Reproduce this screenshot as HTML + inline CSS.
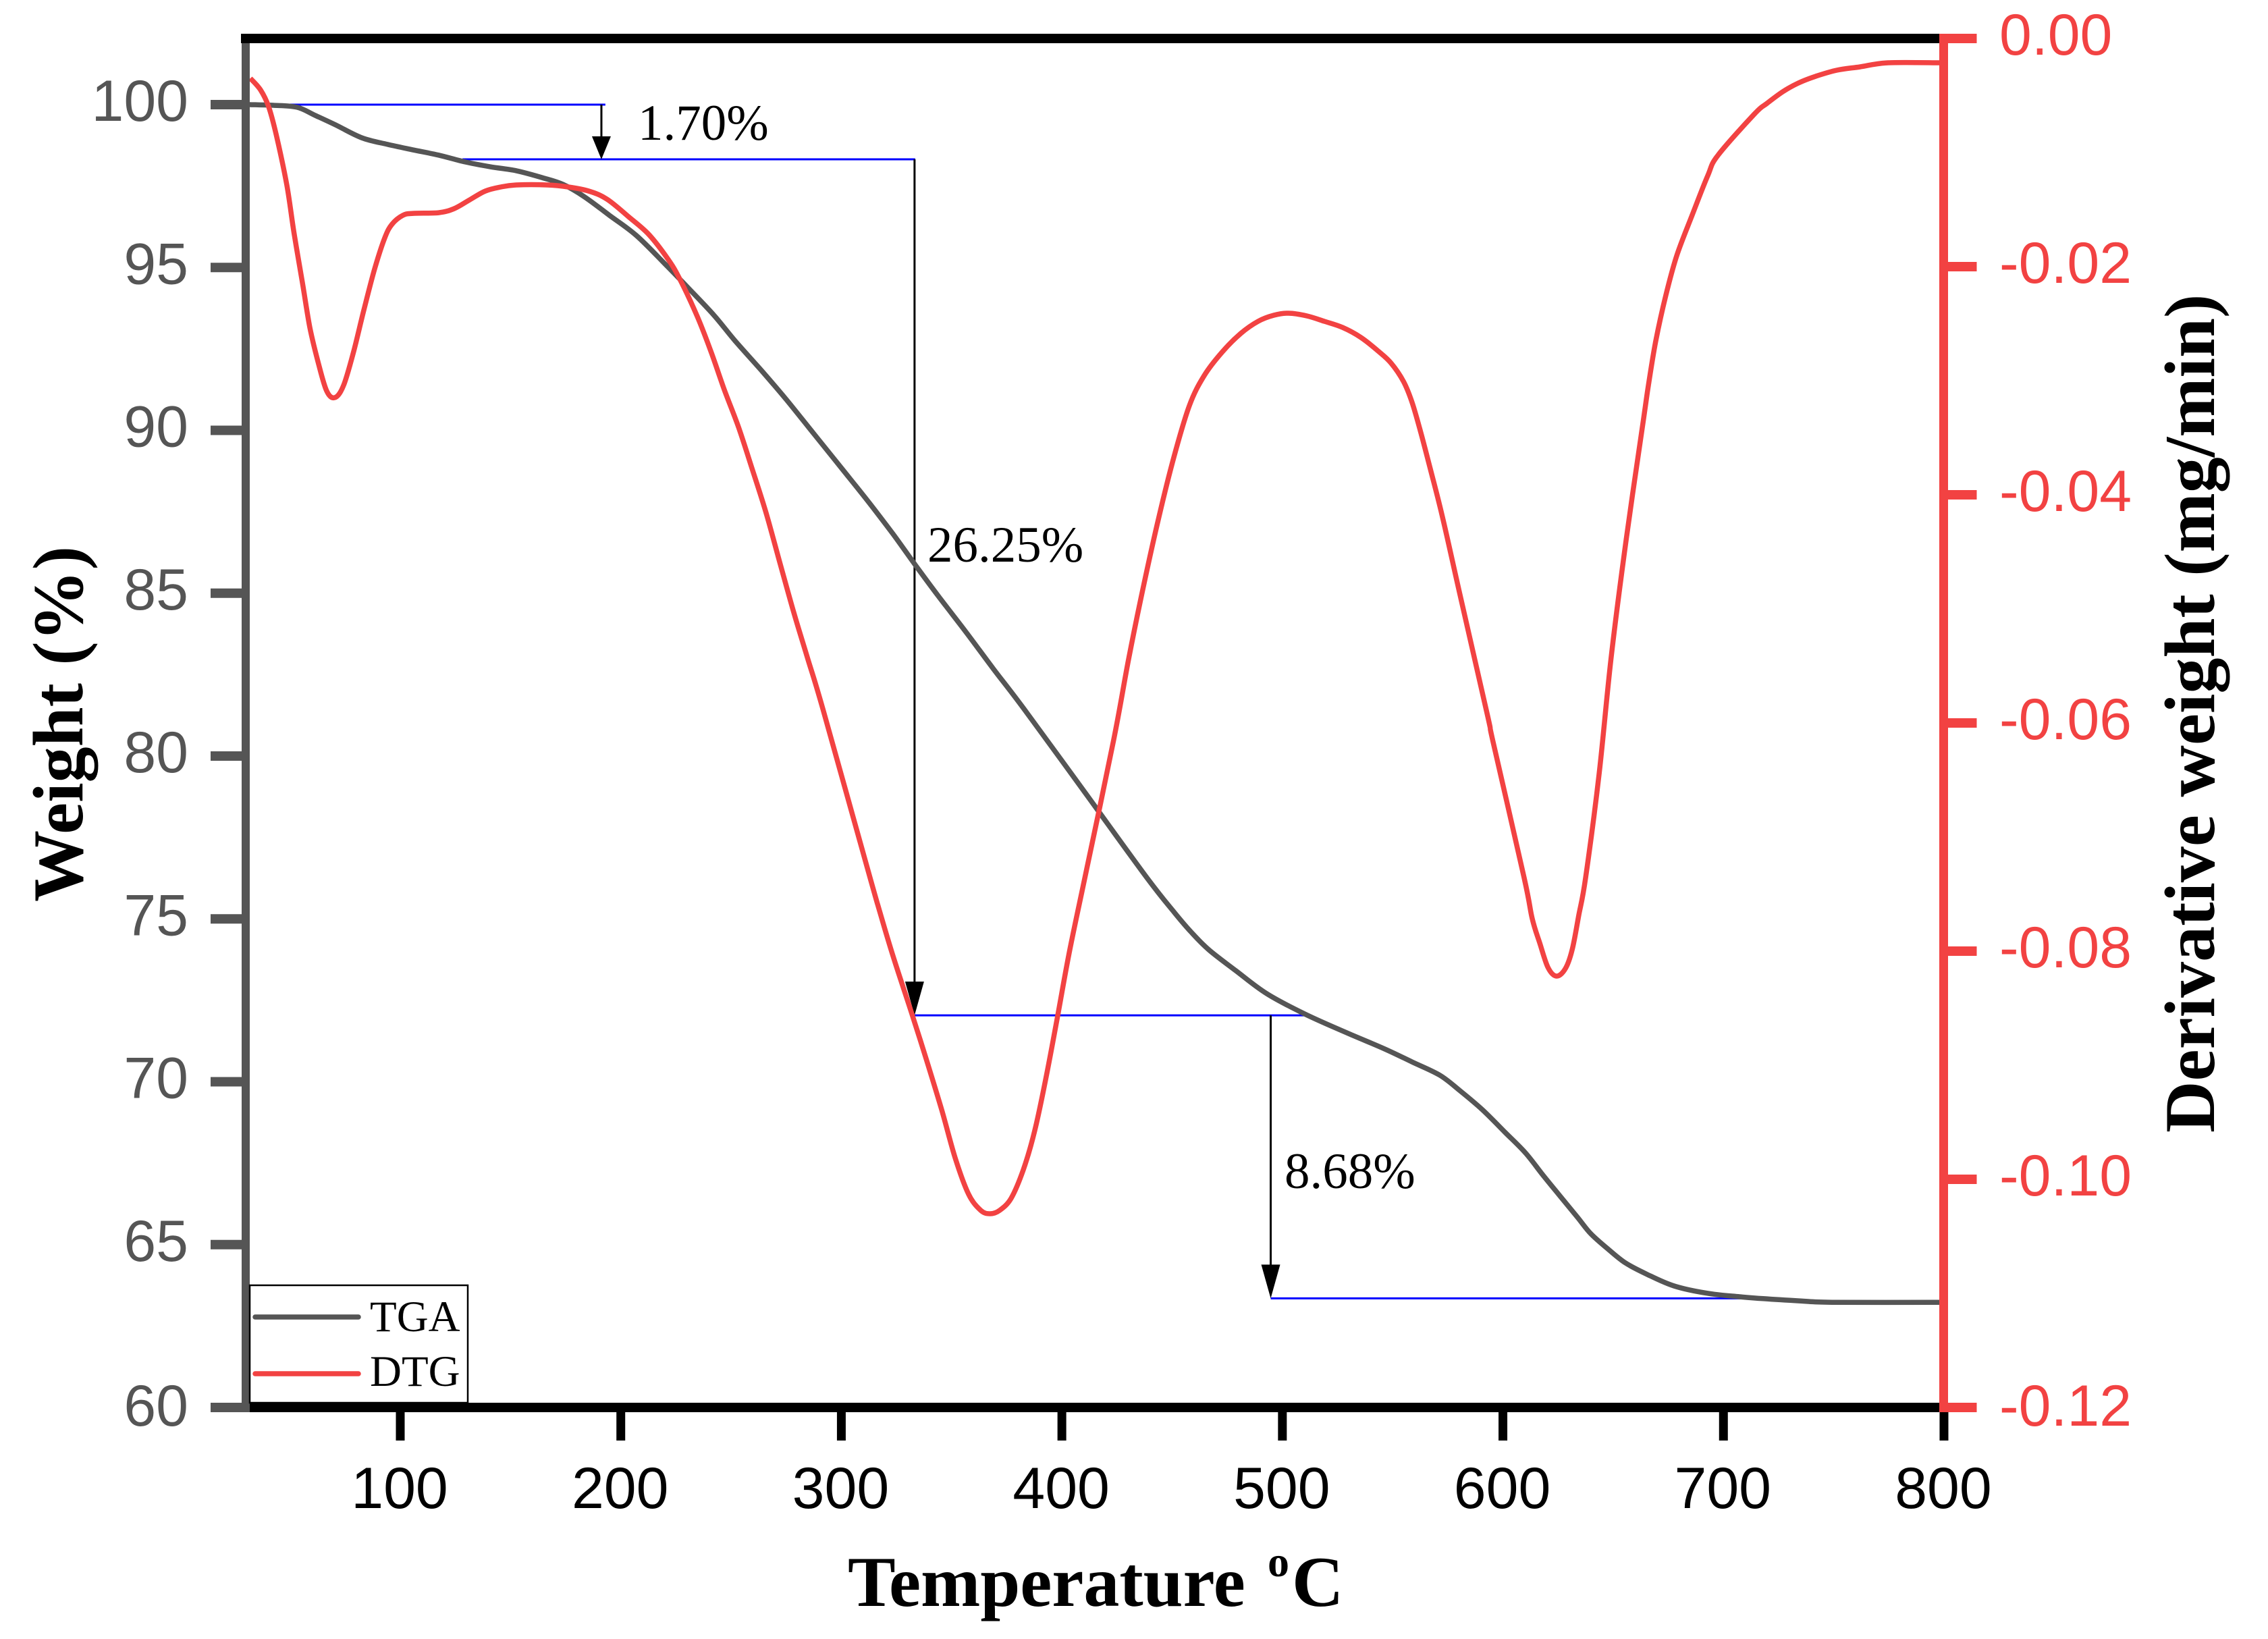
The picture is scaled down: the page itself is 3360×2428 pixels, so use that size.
<!DOCTYPE html>
<html lang="en">
<head>
<meta charset="utf-8">
<title>TGA and DTG curves</title>
<style>
html,body{margin:0;padding:0;background:#fff;}
svg{display:block;}
.sans{font-family:"Liberation Sans",Arial,sans-serif;font-size:86px;}
.serif{font-family:"Liberation Serif","Times New Roman",serif;}
.title{font-weight:700;font-size:106px;fill:#000;}
.note{font-size:75px;fill:#000;}
.leg{font-size:65px;fill:#000;}
</style>
</head>
<body>
<svg id="chart" xmlns="http://www.w3.org/2000/svg" width="3360" height="2428" viewBox="0 0 3360 2428">
  <rect x="0" y="0" width="3360" height="2428" fill="#fff"/>
  <g id="annotations"></g>
  <g id="series"></g>
  <g id="axes"></g>

  <g>
    <rect x="370" y="1904" width="323" height="174" fill="#fff" stroke="#000" stroke-width="2.5"/>
    <line x1="378" y1="1951" x2="531" y2="1951" stroke="#555555" stroke-width="7.5" stroke-linecap="round"/>
    <line x1="378" y1="2035" x2="531" y2="2035" stroke="#f24242" stroke-width="7.5" stroke-linecap="round"/>
    <text class="serif leg" x="548" y="1972">TGA</text>
    <text class="serif leg" x="548" y="2053">DTG</text>
  </g>

  <text class="serif note" x="945" y="207">1.70%</text>
  <text class="serif note" x="1374" y="832">26.25%</text>
  <text class="serif note" x="1903" y="1760">8.68%</text>

  <text class="serif title" x="1256" y="2379">Temperature</text>
  <text class="serif" x="1878" y="2335" font-size="64" font-weight="700">o</text>
  <text class="serif title" x="1914" y="2379">C</text>
  <text class="serif title" transform="translate(122,1336) rotate(-90)">Weight (%)</text>
  <text class="serif title" transform="translate(3280,1678) rotate(-90)">Derivative weight (mg/min)</text>
</svg>

<script>
// ---- chart data ----
const xTicks = [100, 200, 300, 400, 500, 600, 700, 800];
const weightTicks = [100, 95, 90, 85, 80, 75, 70, 65, 60];
const dtgTicks = [0, -0.02, -0.04, -0.06, -0.08, -0.10, -0.12];

const tgaTemps = [31.7,42.5,53.2,61.4,70.6,82.6,94.2,105.8,117.4,129.4,141.0,152.6,164.3,173.8,183.3,194.9,207.1,220.6,231.3,242.3,251.8,264.4,275.1,287.6,300.2,312.7,323.4,333.5,344.0,356.5,368.8,382.8,410.7,438.5,451.1,458.7,466.7,478.9,493.0,510.8,530.7,546.3,558.8,571.4,580.6,590.7,601.1,610.3,618.2,625.9,633.8,639.9,647.9,655.5,665.0,677.6,693.2,707.3,718.0,735.1,749.2,798.0];
const tgaWeight = [100.0,99.98,99.92,99.67,99.38,98.98,98.78,98.61,98.45,98.24,98.09,97.97,97.76,97.55,97.18,96.60,95.98,95.07,94.32,93.53,92.75,91.79,90.94,89.89,88.83,87.77,86.82,85.87,84.91,83.81,82.69,81.45,78.86,76.27,75.19,74.59,74.05,73.41,72.70,72.06,71.46,71.01,70.61,70.20,69.72,69.14,68.44,67.81,67.13,66.49,65.84,65.33,64.85,64.44,64.10,63.73,63.50,63.40,63.34,63.27,63.23,63.23];

const dtgTemps = [32.0,36.6,40.3,43.7,48.6,51.9,55.6,59.0,62.7,66.6,70.3,74.3,78.9,83.5,88.4,93.0,96.3,101.2,105.8,117.4,124.5,131.5,138.6,145.6,152.6,166.7,176.2,185.4,193.7,203.5,212.6,221.2,226.7,234.7,240.8,246.9,253.4,259.5,265.9,272.0,278.5,284.6,291.6,313.0,317.3,323.4,332.3,338.4,345.5,351.6,357.7,363.2,367.5,371.8,377.0,382.5,387.7,392.9,398.1,403.6,411.3,423.5,430.3,437.3,444.0,450.8,457.8,464.6,472.8,481.1,489.0,496.1,502.8,511.1,519.0,527.3,535.6,543.8,549.3,554.9,558.8,562.8,567.1,572.6,580.6,593.1,595.6,609.6,613.3,616.7,620.4,624.3,628.3,631.4,634.4,637.5,643.6,649.1,655.9,663.8,666.0,669.3,673.9,678.8,685.9,692.9,697.5,714.0,719.8,726.9,733.9,741.9,751.4,761.8,774.6,797.9];
const dtgValues = [-.00349,-.00450,-.00598,-.00840,-.01290,-.01716,-.02136,-.02533,-.02834,-.03089,-.03148,-.03041,-.02740,-.02379,-.02018,-.01746,-.01627,-.01550,-.01533,-.01527,-.01491,-.01414,-.01337,-.01302,-.01284,-.01284,-.01302,-.01337,-.01408,-.01562,-.01716,-.01929,-.02107,-.02438,-.02740,-.03077,-.03408,-.03769,-.04160,-.04586,-.05036,-.05426,-.05876,-.07355,-.07645,-.08041,-.08568,-.08941,-.09391,-.09811,-.10130,-.10272,-.10302,-.10272,-.10166,-.09917,-.09574,-.09101,-.08568,-.07988,-.07278,-.06148,-.05438,-.04775,-.04195,-.03669,-.03219,-.02953,-.02746,-.02586,-.02479,-.02426,-.02408,-.02432,-.02479,-.02533,-.02621,-.02746,-.02846,-.03006,-.03189,-.03456,-.03775,-.04195,-.04882,-.05941,-.06172,-.07355,-.07716,-.07929,-.08142,-.08219,-.08154,-.07988,-.07686,-.07355,-.06450,-.05420,-.04391,-.03331,-.03036,-.02651,-.02249,-.01905,-.01544,-.01201,-.01024,-.00663,-.00568,-.00467,-.00391,-.00331,-.00278,-.00249,-.00213,-.00213];

// mass-loss step levels (weight %), with the temperature span of each blue guide
const stepWeights = [100, 98.32, 72.04, 63.35];
const stepStarts = [42.5, 128.2, 331.7, 494.7];
const stepEnds = [193.0, 333.5, 511.1, 709.4];
// arrows drop from one step level to the next at these temperatures
const arrowTemps = [191.2, 333.2, 494.7];

// ---- axis functions ----
function X(t){ return 593 + (t - 100) * 3.2671; }
function YW(w){ return 2085 - (w - 60) * 48.25; }
function YD(d){ return 57 - d * 16900; }

const NS = 'http://www.w3.org/2000/svg';
function mk(tag, attrs, parent, txt){
  const n = document.createElementNS(NS, tag);
  for (const k in attrs) n.setAttribute(k, attrs[k]);
  if (txt !== undefined) n.textContent = txt;
  parent.appendChild(n);
  return n;
}
// smooth curve through the plotted points
function curve(pts){
  let d = 'M' + pts[0][0].toFixed(1) + ' ' + pts[0][1].toFixed(1);
  for (let i = 0; i < pts.length - 1; i++){
    const p0 = pts[Math.max(i - 1, 0)], p1 = pts[i], p2 = pts[i + 1], p3 = pts[Math.min(i + 2, pts.length - 1)];
    const c1x = p1[0] + (p2[0] - p0[0]) / 6, c1y = p1[1] + (p2[1] - p0[1]) / 6;
    const c2x = p2[0] - (p3[0] - p1[0]) / 6, c2y = p2[1] - (p3[1] - p1[1]) / 6;
    d += 'C' + c1x.toFixed(1) + ' ' + c1y.toFixed(1) + ' ' + c2x.toFixed(1) + ' ' + c2y.toFixed(1) + ' ' + p2[0].toFixed(1) + ' ' + p2[1].toFixed(1);
  }
  return d;
}

const GRAY = '#555555', RED = '#f24242';
const ann = document.getElementById('annotations');
const ser = document.getElementById('series');
const ax = document.getElementById('axes');

// ---- annotations ----
stepWeights.forEach(function(w, i){
  const g = mk('line', {x1:X(stepStarts[i]), x2:X(stepEnds[i]), y1:YW(w), y2:YW(w), stroke:'#0000ff', 'stroke-width':3}, ann);
  
  
});
arrowTemps.forEach(function(t, i){
  const x = X(t), y1 = YW(stepWeights[i]), y2 = YW(stepWeights[i + 1]);
  const headLen = i === 0 ? 34 : 50;
  const shaft = mk('line', {x1:x, x2:x, y1:y1, y2:y2 - 10, stroke:'#000', 'stroke-width':3}, ann);
  
  
  const head = mk('polygon', {points:(x-14)+','+(y2-headLen)+' '+(x+14)+','+(y2-headLen)+' '+x+','+y2, fill:'#000'}, ann);
  
  
});

// ---- series ----
const tgaPts = tgaTemps.map(function(t, i){ return [X(t), YW(tgaWeight[i])]; });
const tgaLine = mk('path', {d:curve(tgaPts), fill:'none', stroke:GRAY, 'stroke-width':7.5, 'stroke-linejoin':'round'}, ser);



const dtgPts = dtgTemps.map(function(t, i){ return [X(t), YD(dtgValues[i])]; });
const dtgLine = mk('path', {d:curve(dtgPts), fill:'none', stroke:RED, 'stroke-width':7.5, 'stroke-linejoin':'round'}, ser);



// ---- axes ----
const topAxis = mk('rect', {x:357, y:50, width:2516, height:14, fill:'#000'}, ax);



const bottomAxis = mk('rect', {x:370, y:2078, width:2503, height:14, fill:'#000'}, ax);



const leftAxis = mk('rect', {x:358, y:64, width:12, height:2028, fill:GRAY}, ax);



xTicks.forEach(function(t){
  const tk = mk('rect', {x:X(t) - 6.5, y:2092, width:13, height:42, fill:'#000'}, ax);
  
  
  const lb = mk('text', {x:X(t) - 1, y:2234, 'text-anchor':'middle', fill:'#000', class:'sans'}, ax, String(t));
  
  
});

weightTicks.forEach(function(w){
  const y = YW(w);
  const tk = mk('rect', {x:312, y:y - 7, width:46, height:14, fill:GRAY}, ax);
  
  
  const lb = mk('text', {x:279, y:y + (w === 60 ? 27 : 24), 'text-anchor':'end', fill:GRAY, class:'sans'}, ax, String(w));
  
  
});

const rightAxis = mk('rect', {x:2873, y:50, width:13, height:2042, fill:RED}, ax);



dtgTicks.forEach(function(d){
  const y = YD(d);
  const tk = mk('rect', {x:2886, y:y - 7, width:42.5, height:14, fill:RED}, ax);
  
  
  const lb = mk('text', {x:2962, y:y + (d === -0.12 ? 27 : 24), fill:RED, class:'sans'}, ax, d.toFixed(2));
  
  
});
</script>
</body>
</html>
